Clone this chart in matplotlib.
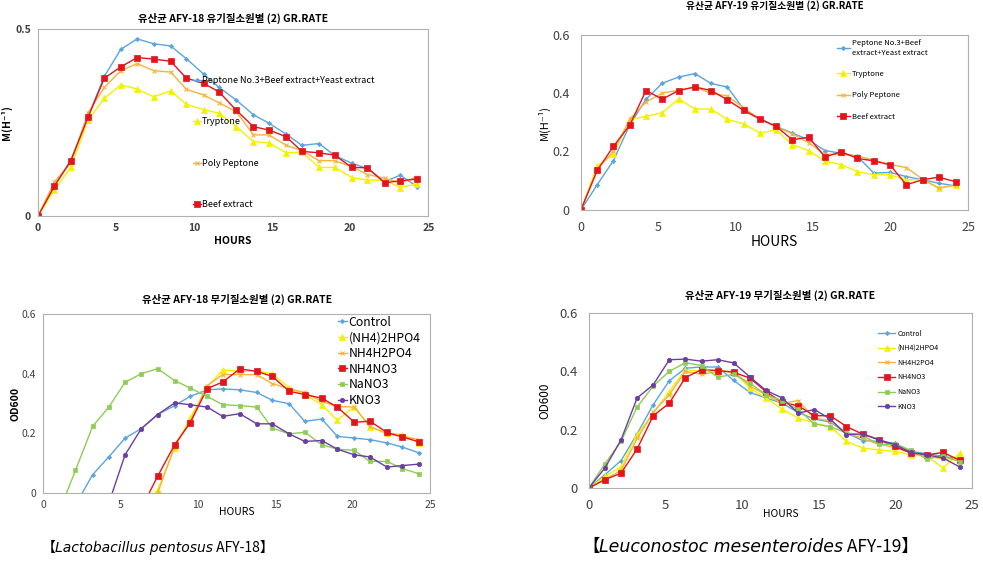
import matplotlib.pyplot as plt

plt.rcParams['font.family'] = ['Noto Sans CJK KR', 'DejaVu Sans']

# sampling times (hours)
hours18 = [0, 1.05, 2.1, 3.2, 4.25, 5.3, 6.35, 7.4, 8.5, 9.5, 10.6, 11.6,
           12.7, 13.8, 14.8, 15.9, 16.9, 18.0, 19.0, 20.1, 21.1, 22.2, 23.2, 24.3]
hours19 = [0, 1.05, 2.1, 3.15, 4.2, 5.25, 6.3, 7.35, 8.4, 9.45, 10.5, 11.55,
           12.6, 13.65, 14.7, 15.75, 16.8, 17.85, 18.9, 19.95, 21.0, 22.05, 23.1, 24.2]

org_labels = ['Peptone No.3+Beef extract+Yeast extract', 'Tryptone', 'Poly Peptone', 'Beef extract']
org_labels19 = ['Peptone No.3+Beef\nextract+Yeast extract', 'Tryptone', 'Poly Peptone', 'Beef extract']

# AFY-18 organic nitrogen sources
org18_peptone3 = [0, 0.081, 0.149, 0.266, 0.374, 0.446, 0.474, 0.461, 0.455, 0.421, 0.380, 0.344,
                  0.310, 0.271, 0.248, 0.219, 0.189, 0.194, 0.162, 0.141, 0.127, 0.092, 0.109, 0.078]
org18_tryptone = [0, 0.07, 0.13, 0.257, 0.315, 0.351, 0.340, 0.319, 0.335, 0.299, 0.285, 0.275,
                  0.239, 0.199, 0.196, 0.169, 0.171, 0.130, 0.130, 0.103, 0.096, 0.096, 0.076, 0.086]
org18_polypep = [0, 0.092, 0.141, 0.276, 0.344, 0.389, 0.408, 0.389, 0.385, 0.339, 0.324, 0.303,
                 0.279, 0.217, 0.217, 0.189, 0.175, 0.148, 0.148, 0.132, 0.111, 0.101, 0.089, 0.105]
org18_beef = [0, 0.08, 0.148, 0.264, 0.369, 0.399, 0.424, 0.420, 0.414, 0.369, 0.355, 0.332,
              0.283, 0.239, 0.230, 0.212, 0.173, 0.169, 0.163, 0.130, 0.129, 0.089, 0.094, 0.099]

# AFY-19 organic nitrogen sources
org19_peptone3 = [0, 0.086, 0.169, 0.291, 0.379, 0.434, 0.455, 0.467, 0.433, 0.421, 0.345, 0.313,
                  0.286, 0.263, 0.240, 0.203, 0.194, 0.183, 0.126, 0.128, 0.114, 0.103, 0.091, 0.082]
org19_tryptone = [0, 0.15, 0.19, 0.31, 0.32, 0.333, 0.38, 0.346, 0.345, 0.31, 0.295, 0.263,
                  0.274, 0.223, 0.203, 0.167, 0.155, 0.131, 0.12, 0.12, 0.103, 0.103, 0.075, 0.085]
org19_polypep = [0, 0.14, 0.2, 0.31, 0.37, 0.40, 0.41, 0.42, 0.40, 0.39, 0.35, 0.31,
                 0.285, 0.26, 0.23, 0.19, 0.19, 0.185, 0.17, 0.155, 0.145, 0.105, 0.074, 0.085]
org19_beef = [0, 0.135, 0.218, 0.29, 0.409, 0.379, 0.409, 0.421, 0.409, 0.377, 0.341, 0.311,
              0.286, 0.240, 0.249, 0.181, 0.199, 0.176, 0.168, 0.154, 0.086, 0.103, 0.112, 0.096]

inorg_labels = ['Control', '(NH4)2HPO4', 'NH4H2PO4', 'NH4NO3', 'NaNO3', 'KNO3']

# AFY-18 inorganic nitrogen sources (early values below zero are clipped)
inorg18_control = [-0.2, -0.12, -0.04, 0.061, 0.121, 0.184, 0.216, 0.263, 0.293, 0.324, 0.346, 0.349,
                   0.346, 0.337, 0.311, 0.299, 0.240, 0.248, 0.190, 0.184, 0.179, 0.168, 0.154, 0.134]
inorg18_nh42hpo4 = [-0.4, -0.35, -0.3, -0.25, -0.2, -0.12, -0.06, 0.01, 0.151, 0.251, 0.355, 0.413,
                    0.408, 0.408, 0.400, 0.352, 0.330, 0.296, 0.244, 0.290, 0.221, 0.201, 0.196, 0.168]
inorg18_nh4h2po4 = [-0.4, -0.35, -0.3, -0.25, -0.2, -0.12, -0.06, 0.0, 0.156, 0.240, 0.360, 0.397,
                    0.397, 0.397, 0.367, 0.349, 0.337, 0.307, 0.290, 0.288, 0.223, 0.199, 0.190, 0.179]
inorg18_nh4no3 = [-0.4, -0.35, -0.3, -0.25, -0.18, -0.11, -0.052, 0.056, 0.162, 0.235, 0.350, 0.372,
                  0.416, 0.408, 0.391, 0.341, 0.330, 0.318, 0.288, 0.237, 0.241, 0.203, 0.188, 0.171]
inorg18_nano3 = [-0.15, -0.062, 0.076, 0.223, 0.288, 0.371, 0.400, 0.417, 0.377, 0.352, 0.324, 0.296,
                 0.293, 0.288, 0.218, 0.198, 0.204, 0.162, 0.147, 0.143, 0.106, 0.106, 0.082, 0.064]
inorg18_kno3 = [-0.3, -0.25, -0.18, -0.11, -0.034, 0.128, 0.216, 0.263, 0.302, 0.296, 0.288, 0.257,
                0.266, 0.232, 0.232, 0.198, 0.173, 0.176, 0.147, 0.128, 0.121, 0.087, 0.092, 0.097]

# AFY-19 inorganic nitrogen sources
inorg19_control = [0, 0.046, 0.094, 0.186, 0.286, 0.368, 0.411, 0.415, 0.415, 0.369, 0.328, 0.309,
                   0.291, 0.259, 0.237, 0.226, 0.189, 0.163, 0.160, 0.154, 0.126, 0.118, 0.109, 0.099]
inorg19_nh42hpo4 = [0, 0.04, 0.073, 0.183, 0.257, 0.331, 0.406, 0.400, 0.403, 0.397, 0.343, 0.309,
                    0.271, 0.240, 0.223, 0.211, 0.160, 0.137, 0.131, 0.126, 0.114, 0.109, 0.069, 0.120]
inorg19_nh4h2po4 = [0, 0.03, 0.06, 0.17, 0.26, 0.32, 0.40, 0.39, 0.40, 0.40, 0.35, 0.32,
                    0.29, 0.30, 0.24, 0.23, 0.19, 0.17, 0.15, 0.14, 0.12, 0.11, 0.10, 0.10]
inorg19_nh4no3 = [0, 0.029, 0.051, 0.134, 0.248, 0.291, 0.379, 0.406, 0.403, 0.397, 0.377, 0.331,
                  0.294, 0.282, 0.248, 0.248, 0.211, 0.185, 0.166, 0.143, 0.120, 0.114, 0.122, 0.095]
inorg19_nano3 = [0, 0.083, 0.16, 0.278, 0.35, 0.40, 0.43, 0.42, 0.38, 0.39, 0.36, 0.32,
                 0.30, 0.27, 0.22, 0.21, 0.19, 0.18, 0.15, 0.15, 0.13, 0.10, 0.11, 0.09]
inorg19_kno3 = [0, 0.069, 0.165, 0.309, 0.354, 0.440, 0.442, 0.435, 0.440, 0.429, 0.381, 0.335,
                0.309, 0.257, 0.269, 0.237, 0.183, 0.186, 0.166, 0.149, 0.122, 0.114, 0.103, 0.072]

# styles
blue = '#5aa5e0'
yellow = '#f2f200'
orange = '#f5b43c'
red = '#e5131b'
green = '#8dcc55'
purple = '#6b3fa0'
org_styles = [(blue, 'D', 2.2), (yellow, '^', 4), (orange, 'x', 3), (red, 's', 4)]
inorg_styles = [(blue, 'D', 2.2), (yellow, '^', 4), (orange, 'x', 3), (red, 's', 4),
                (green, 's', 3.2), (purple, 'o', 3.2)]

fig = plt.figure(figsize=(9.83, 5.61), dpi=100)
ax1 = fig.add_axes([0.0387, 0.615, 0.397, 0.333])
ax2 = fig.add_axes([0.591, 0.626, 0.394, 0.312])
ax3 = fig.add_axes([0.0437, 0.1212, 0.394, 0.319])
ax4 = fig.add_axes([0.599, 0.130, 0.390, 0.312])


def draw(ax, x, series, labels, styles):
    for y, lab, (c, m, ms) in zip(series, labels, styles):
        ax.plot(x, y, color=c, marker=m, markersize=ms, linewidth=1.0, label=lab,
                markeredgewidth=0.8 if m == 'x' else 0.5)
    for s in ax.spines.values():
        s.set_color('#b0b0b0')
        s.set_linewidth(0.8)
    ax.tick_params(length=0, colors='#404040')
    ax.set_xlim(0, 25)
    ax.set_xticks([0, 5, 10, 15, 20, 25])


# panel 1
draw(ax1, hours18, [org18_peptone3, org18_tryptone, org18_polypep, org18_beef], org_labels, org_styles)
ax1.set_ylim(0, 0.5)
ax1.set_yticks([0, 0.5])
ax1.set_yticklabels(['0', '0.5'])
ax1.tick_params(labelsize=7.5, pad=5)
for t in ax1.get_xticklabels() + ax1.get_yticklabels():
    t.set_fontweight('bold')
ax1.set_title('유산균 AFY-18 유기질소원별 (2) GR.RATE', fontsize=7.5, fontweight='bold', pad=5)
ax1.set_xlabel('HOURS', fontsize=7.5, fontweight='bold', labelpad=2)
ax1.set_ylabel('M(H⁻¹)', fontsize=7.5, fontweight='bold', labelpad=2)
ax1.legend(loc='upper left', bbox_to_anchor=(0.385, 0.775), frameon=False, fontsize=6.5,
           handlelength=0.9, handletextpad=0.1, labelspacing=3.6, borderpad=0)

# panel 2
draw(ax2, hours19, [org19_peptone3, org19_tryptone, org19_polypep, org19_beef], org_labels19, org_styles)
ax2.set_ylim(0, 0.6)
ax2.set_yticks([0, 0.2, 0.4, 0.6])
ax2.set_yticklabels(['0', '0.2', '0.4', '0.6'])
ax2.tick_params(labelsize=9, pad=8)
ax2.set_title('유산균 AFY-19 유기질소원별 (2) GR.RATE', fontsize=7, fontweight='bold', pad=19)
ax2.set_xlabel('HOURS', fontsize=10, labelpad=1)
ax2.set_ylabel('M(H⁻¹)', fontsize=8, labelpad=2)
ax2.legend(loc='upper left', bbox_to_anchor=(0.65, 0.995), frameon=False, fontsize=5.5,
           handlelength=1.8, handletextpad=0.2, labelspacing=1.75, borderpad=0)

# panel 3
draw(ax3, hours18, [inorg18_control, inorg18_nh42hpo4, inorg18_nh4h2po4, inorg18_nh4no3,
                    inorg18_nano3, inorg18_kno3], inorg_labels, inorg_styles)
ax3.set_ylim(0, 0.6)
ax3.set_yticks([0, 0.2, 0.4, 0.6])
ax3.set_yticklabels(['0', '0.2', '0.4', '0.6'])
ax3.tick_params(labelsize=7.5, pad=5)
ax3.set_title('유산균 AFY-18 무기질소원별 (2) GR.RATE', fontsize=7.5, fontweight='bold', pad=8)
ax3.set_xlabel('HOURS', fontsize=7.5, labelpad=-2)
ax3.set_ylabel('OD600', fontsize=7.5, fontweight='bold', labelpad=1)
ax3.legend(loc='upper left', bbox_to_anchor=(0.745, 1.025), frameon=False, fontsize=8.8,
           handlelength=0.8, handletextpad=0.1, labelspacing=0.22, borderpad=0)

# panel 4
draw(ax4, hours19, [inorg19_control, inorg19_nh42hpo4, inorg19_nh4h2po4, inorg19_nh4no3,
                    inorg19_nano3, inorg19_kno3], inorg_labels, inorg_styles)
ax4.set_ylim(0, 0.6)
ax4.set_yticks([0, 0.2, 0.4, 0.6])
ax4.set_yticklabels(['0', '0.2', '0.4', '0.6'])
ax4.tick_params(labelsize=9.5, pad=8)
ax4.set_title('유산균 AFY-19 무기질소원별 (2) GR.RATE', fontsize=7.5, fontweight='bold', pad=10)
ax4.set_xlabel('HOURS', fontsize=7.5, labelpad=-2.5)
ax4.set_ylabel('OD600', fontsize=8.5, labelpad=6)
ax4.legend(loc='upper left', bbox_to_anchor=(0.745, 0.925), frameon=False, fontsize=5,
           handlelength=2.5, handletextpad=0.3, labelspacing=0.95, borderpad=0)

# captions under each column
cap_font = ['Noto Sans CJK KR', 'DejaVu Sans']
for x0, species, strain, fs in [(0.042, 'Lactobacillus pentosus', ' AFY-18】', 10),
                                (0.592, 'Leuconostoc mesenteroides', ' AFY-19】', 12.5)]:
    t0 = fig.text(x0, 0.016, '【', fontsize=fs, family=cap_font, va='baseline')
    t1 = ax1.annotate(species, xy=(1, 0), xycoords=t0, fontsize=fs, style='italic',
                      family=['DejaVu Sans'], va='bottom', annotation_clip=False)
    ax1.annotate(strain, xy=(1, 0), xycoords=t1, fontsize=fs, family=cap_font,
                 va='bottom', annotation_clip=False)

fig.savefig('out.png', dpi=100)
